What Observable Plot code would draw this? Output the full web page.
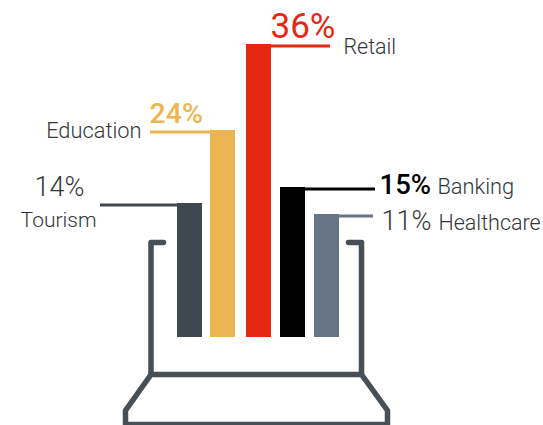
<!DOCTYPE html>
<html>
<head>
<meta charset="utf-8">
<script src="https://cdn.jsdelivr.net/npm/d3@7"></script>
<script src="https://cdn.jsdelivr.net/npm/@observablehq/plot@0.6"></script>
<style>
  html, body { margin: 0; padding: 0; background: #fff; }
  svg { display: block; }
</style>
</head>
<body>
<div id="chart"></div>
<script>
// Share of each sector, in percent
const sectors = ["Tourism", "Education", "Retail", "Banking", "Healthcare"];
const shares = [14, 24, 36, 15, 11];

// Bar colours, one per sector
const colors = ["#3f4750", "#ecb552", "#e62711", "#000000", "#667486"];

// Left edge of each bar and the far end of its leader line, in x units
const barLeft = [177, 210, 246, 280, 314];
const leaderEnd = [100, 150, 330, 375, 373];
const barWidth = 25;

const rows = sectors.map((sector, i) => ({
  sector,
  share: shares[i],
  color: colors[i],
  left: barLeft[i],
  right: barLeft[i] + barWidth,
  leadFrom: Math.min(leaderEnd[i], barLeft[i]),
  leadTo: Math.max(leaderEnd[i], barLeft[i] + barWidth)
}));

// Laptop outline drawn around the bars, as [x, y] in scale units
const laptopScreenLeft = [[163, 8.5], [150.5, 8.5], [150.5, -37]];
const laptopScreenRight = [[348, 8.5], [361, 8.5], [361, -37]];
const laptopBase = [[150.5, -37], [361, -37], [387, -73], [387, -87], [125, -87], [125, -73], [150.5, -37]];

// The bars follow an infographic's stepped scale rather than a straight one
const stepped = d3.scaleLinear()
  .domain([-88, 0, 11, 14, 15, 24, 36])
  .range([425, 337, 214, 203, 187, 130, 44]);

const textGrey = "#333639";
const light = "Roboto, sans-serif";

// Text placed relative to a share value on the y scale; baseline is a pixel offset from it
function label(text, x, value, baseline, size, fill, weight, anchor = "start") {
  return Plot.text([text], {
    x: () => x,
    y: () => value,
    text: d => d,
    textAnchor: anchor,
    dy: baseline - 0.32 * size,
    fontSize: size,
    fontWeight: weight,
    fontFamily: light,
    fill
  });
}

const outline = (points) => Plot.line(points, {
  x: d => d[0],
  y: d => d[1],
  stroke: "#465056",
  strokeWidth: 5.5,
  strokeLinecap: "round",
  strokeLinejoin: "round",
  curve: "linear"
});

const chart = Plot.plot({
  width: 543,
  height: 425,
  margin: 0,
  x: {domain: [0, 543], range: [0, 543], axis: null},
  y: {transform: stepped, domain: [0, 425], range: [0, 425], axis: null},
  marks: [
    outline(laptopScreenLeft),
    outline(laptopScreenRight),
    outline(laptopBase),
    Plot.rectY(rows, {x1: "left", x2: "right", y1: 0, y2: "share", fill: "color"}),
    Plot.ruleY(rows, {y: "share", x1: "leadFrom", x2: "leadTo", stroke: "color", strokeWidth: 3, dy: 1.5}),

    label("36%", 270, 36, -7, 35, "#e62711", 400),
    label("Retail", 343, 36, 9, 21.4, textGrey, 300),

    label("24%", 149, 24, -8, 28.5, "#ecb552", 500),
    label("Education", 141, 24, 7, 21.8, textGrey, 300, "end"),

    label("14%", 34, 14, -8, 27, textGrey, 300),
    label("Tourism", 96, 14, 23, 21, textGrey, 300, "end"),

    label("15%", 379, 15, 6, 27.5, "#000000", 500),
    label("Banking", 437, 15, 6, 21.8, textGrey, 300),

    label("11%", 381, 11, 15, 27, textGrey, 300),
    label("Healthcare", 438, 11, 15, 21.5, textGrey, 300)
  ]
});

document.getElementById("chart").appendChild(chart);
</script>
</body>
</html>
